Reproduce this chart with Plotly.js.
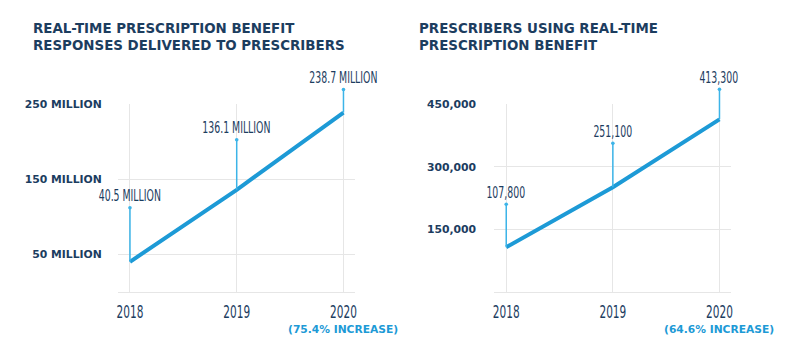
<!DOCTYPE html>
<html>
<head>
<meta charset="utf-8">
<script src="https://cdn.plot.ly/plotly-3.0.1.min.js"></script>
<style>html,body{margin:0;padding:0;background:#fff;}#chart{width:800px;height:350px;}</style>
</head>
<body>
<div id="chart"></div>
<script>
// ---- data ----
const years = [2018, 2019, 2020];
const yearLabels = ['2018', '2019', '2020'];
const responses = [40.5e6, 136.1e6, 238.7e6];
const responseLabels = ['40.5 MILLION', '136.1 MILLION', '238.7 MILLION'];
const prescribers = [107800, 251100, 413300];
const prescriberLabels = ['107,800', '251,100', '413,300'];
const respTicks = [50e6, 150e6, 250e6];
const respTickText = ['50 MILLION', '150 MILLION', '250 MILLION'];
const presTicks = [150000, 300000, 450000];
const presTickText = ['150,000', '300,000', '450,000'];
const title1 = 'REAL-TIME PRESCRIPTION BENEFIT<br>RESPONSES DELIVERED TO PRESCRIBERS';
const title2 = 'PRESCRIBERS USING REAL-TIME<br>PRESCRIPTION BENEFIT';
const increase1 = '(75.4% INCREASE)';
const increase2 = '(64.6% INCREASE)';

// ---- styles ----
const NAVY = '#1c3d5f';
const LINE = '#1d9ad6';
const STEM = '#3cb4e8';
const GRID = '#e6e6e6';
const NARROW = '"DejaVu Sans Condensed", "DejaVu Sans", sans-serif';
const BOLD = '"DejaVu Sans", sans-serif';
const SQUEEZE = 0.65;
const stemOffsets1 = [-66, -62, -35];
const stemOffsets2 = [-55, -56, -42];

const traces = [
  {x: years, y: responses, xaxis: 'x', yaxis: 'y', mode: 'lines',
   line: {color: LINE, width: 4}, hoverinfo: 'skip', cliponaxis: false},
  {x: years, y: prescribers, xaxis: 'x2', yaxis: 'y2', mode: 'lines',
   line: {color: LINE, width: 4}, hoverinfo: 'skip', cliponaxis: false}
];

function xAxis(domain, anchor) {
  return {
    domain: domain, anchor: anchor, range: [2017.888, 2020.108],
    tickvals: years, ticktext: yearLabels,
    showgrid: true, gridcolor: GRID, gridwidth: 1,
    zeroline: false, showline: false,
    ticks: 'outside', ticklen: 3, tickcolor: 'rgba(0,0,0,0)',
    tickfont: {family: NARROW, size: 18, color: NAVY},
    fixedrange: true
  };
}
function yAxis(domain, anchor, range, tv, tt, standoff) {
  return {
    domain: domain, anchor: anchor, range: range,
    tickvals: tv, ticktext: tt,
    showgrid: true, gridcolor: GRID, gridwidth: 1,
    zeroline: true, zerolinecolor: GRID, zerolinewidth: 1,
    showline: false,
    ticks: 'outside', ticklen: standoff, tickcolor: 'rgba(0,0,0,0)',
    tickfont: {family: BOLD, size: 10.8, color: NAVY, weight: 'bold'},
    fixedrange: true
  };
}

const annotations = [];
function addStems(xref, yref, vals, labels, offsets) {
  vals.forEach((v, i) => {
    annotations.push({
      x: years[i], y: v, xref: xref, yref: yref,
      text: labels[i], showarrow: true, ax: 0, ay: offsets[i],
      arrowside: 'start', startarrowhead: 6, startarrowsize: 0.6,
      arrowwidth: 1.5, arrowcolor: STEM, borderpad: 2,
      font: {family: NARROW, size: 16, color: NAVY}
    });
  });
}
addStems('x', 'y', responses, responseLabels, stemOffsets1);
addStems('x2', 'y2', prescribers, prescriberLabels, stemOffsets2);

annotations.push(
  {xref: 'paper', yref: 'paper', x: 31/800, y: 1 - 19/350, xanchor: 'left', yanchor: 'top', align: 'left',
   showarrow: false, text: title1, font: {family: BOLD, size: 13.4, color: NAVY, weight: 'bold'}},
  {xref: 'paper', yref: 'paper', x: 417/800, y: 1 - 19/350, xanchor: 'left', yanchor: 'top', align: 'left',
   showarrow: false, text: title2, font: {family: BOLD, size: 13.4, color: NAVY, weight: 'bold'}},
  {xref: 'x', yref: 'paper', x: years[2], y: 1 - 329/350, xanchor: 'center', yanchor: 'middle',
   showarrow: false, text: increase1, font: {family: BOLD, size: 10.7, color: LINE, weight: 'bold'}},
  {xref: 'x2', yref: 'paper', x: years[2], y: 1 - 329/350, xanchor: 'center', yanchor: 'middle',
   showarrow: false, text: increase2, font: {family: BOLD, size: 10.7, color: LINE, weight: 'bold'}}
);

const layout = {
  width: 800, height: 350,
  margin: {l: 0, r: 0, t: 0, b: 0},
  paper_bgcolor: '#ffffff', plot_bgcolor: '#ffffff',
  showlegend: false,
  xaxis: xAxis([118/800, 355/800], 'y'),
  yaxis: yAxis([57.7/350, 246/350], 'x', [0, 250e6], respTicks, respTickText, 13),
  xaxis2: xAxis([494.3/800, 731/800], 'y2'),
  yaxis2: yAxis([57.7/350, 246/350], 'x2', [0, 450000], presTicks, presTickText, 15),
  annotations: annotations
};

function squeeze(el) {
  const len = el.getComputedTextLength();
  if (len > 0) {
    el.setAttribute('textLength', (len * SQUEEZE).toFixed(2));
    el.setAttribute('lengthAdjust', 'spacingAndGlyphs');
  }
}

Plotly.newPlot('chart', traces, layout, {displayModeBar: false, staticPlot: true}).then(gd => {
  gd.querySelectorAll('.xtick text, .x2tick text').forEach(squeeze);
  const groups = gd.querySelectorAll('g.annotation');
  for (let i = 0; i < 6 && i < groups.length; i++) {
    const t = groups[i].querySelector('text.annotation-text');
    if (t) squeeze(t);
  }
});
</script>
</body>
</html>
